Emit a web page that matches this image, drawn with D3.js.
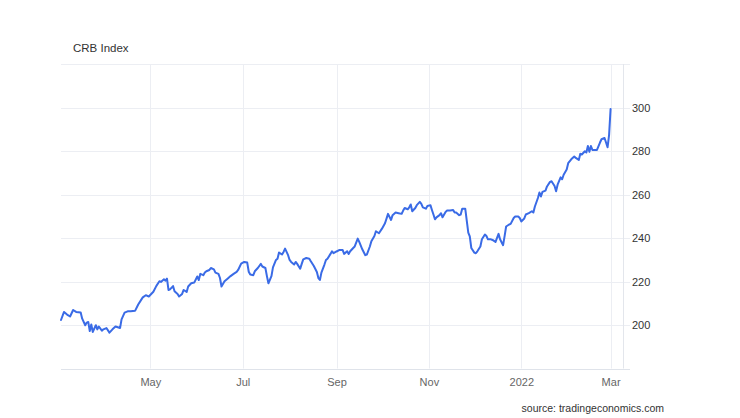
<!DOCTYPE html>
<html>
<head>
<meta charset="utf-8">
<script src="https://cdn.jsdelivr.net/npm/d3@7"></script>
<style>
  html, body { margin: 0; padding: 0; background: #fff; }
  svg { display: block; font-family: "Liberation Sans", Arial, sans-serif; }
</style>
</head>
<body>
<svg id="chart" width="740" height="418"></svg>
<script>
const title = "CRB Index";
const source = "source: tradingeconomics.com";

const dates = [
  "2021-03-03","2021-03-05","2021-03-07","2021-03-09","2021-03-11","2021-03-13","2021-03-16","2021-03-17","2021-03-19","2021-03-20","2021-03-21","2021-03-22","2021-03-23","2021-03-24","2021-03-26","2021-03-27","2021-03-28","2021-03-30","2021-03-31",
  "2021-04-02","2021-04-04","2021-04-06","2021-04-08","2021-04-11","2021-04-12","2021-04-14","2021-04-16","2021-04-18","2021-04-21","2021-04-23","2021-04-26","2021-04-28","2021-04-30",
  "2021-05-03","2021-05-05","2021-05-07","2021-05-08","2021-05-10","2021-05-11","2021-05-12","2021-05-13","2021-05-14","2021-05-16","2021-05-17","2021-05-19","2021-05-20","2021-05-22","2021-05-23","2021-05-25","2021-05-26","2021-05-28","2021-05-30",
  "2021-06-01","2021-06-02","2021-06-03","2021-06-05","2021-06-06","2021-06-07","2021-06-09","2021-06-10","2021-06-12","2021-06-13","2021-06-15","2021-06-16","2021-06-17","2021-06-19","2021-06-21","2021-06-23","2021-06-25","2021-06-27","2021-06-28","2021-06-30",
  "2021-07-02","2021-07-04","2021-07-05","2021-07-06","2021-07-08","2021-07-09","2021-07-11","2021-07-13","2021-07-14","2021-07-16","2021-07-17","2021-07-18","2021-07-20","2021-07-21","2021-07-23","2021-07-24","2021-07-25","2021-07-27","2021-07-28","2021-07-29","2021-07-31",
  "2021-08-01","2021-08-02","2021-08-04","2021-08-05","2021-08-06","2021-08-08","2021-08-09","2021-08-10","2021-08-12","2021-08-14","2021-08-15","2021-08-17","2021-08-19","2021-08-20","2021-08-21","2021-08-22","2021-08-24","2021-08-25","2021-08-26","2021-08-28","2021-08-29","2021-08-30",
  "2021-09-01","2021-09-03","2021-09-05","2021-09-06","2021-09-08","2021-09-09","2021-09-10","2021-09-12","2021-09-13","2021-09-15","2021-09-16","2021-09-18","2021-09-20","2021-09-21","2021-09-23","2021-09-24","2021-09-26","2021-09-27","2021-09-29",
  "2021-10-01","2021-10-03","2021-10-04","2021-10-05","2021-10-07","2021-10-08","2021-10-10","2021-10-12","2021-10-14","2021-10-15","2021-10-16","2021-10-18","2021-10-19","2021-10-20","2021-10-21","2021-10-23","2021-10-24","2021-10-26","2021-10-27","2021-10-28","2021-10-30","2021-10-31",
  "2021-11-02","2021-11-03","2021-11-04","2021-11-05","2021-11-06","2021-11-08","2021-11-09","2021-11-10","2021-11-12","2021-11-13","2021-11-15","2021-11-17","2021-11-18","2021-11-19","2021-11-21","2021-11-22","2021-11-23","2021-11-25","2021-11-27","2021-11-28","2021-11-29",
  "2021-12-01","2021-12-02","2021-12-03","2021-12-05","2021-12-06","2021-12-08","2021-12-09","2021-12-10","2021-12-12","2021-12-13","2021-12-15","2021-12-17","2021-12-18","2021-12-20","2021-12-21","2021-12-22","2021-12-24","2021-12-25","2021-12-27","2021-12-28","2021-12-30","2021-12-31",
  "2022-01-01","2022-01-03","2022-01-04","2022-01-06","2022-01-08","2022-01-09","2022-01-10","2022-01-12","2022-01-13","2022-01-14","2022-01-15","2022-01-17","2022-01-18","2022-01-20","2022-01-21","2022-01-23","2022-01-24","2022-01-25","2022-01-27","2022-01-28","2022-01-29","2022-01-31",
  "2022-02-01","2022-02-03","2022-02-05","2022-02-06","2022-02-08","2022-02-09","2022-02-10","2022-02-12","2022-02-13","2022-02-14","2022-02-15","2022-02-16","2022-02-17","2022-02-19","2022-02-20","2022-02-22","2022-02-23","2022-02-25","2022-02-26","2022-02-27","2022-02-28",
  "2022-03-01"
];

const values = [
  202.3,206.0,204.8,203.9,206.9,206.0,205.7,202.9,199.9,201.1,201.4,197.2,200.2,196.8,199.9,198.0,199.3,197.4,198.0,
  198.6,196.5,198.0,199.3,198.6,202.6,205.7,206.3,206.3,206.6,209.4,212.7,213.7,213.1,
  215.3,218.0,220.1,219.8,221.0,220.4,221.3,216.1,216.4,217.9,215.5,214.3,213.1,214.3,216.1,215.2,217.7,219.2,219.5,
  222.3,220.7,223.5,222.9,224.1,224.7,225.3,226.2,225.6,224.1,223.5,221.6,217.7,220.1,221.3,222.5,223.5,224.4,225.3,228.2,
  229.0,228.7,224.5,223.2,222.9,224.7,226.2,228.1,226.9,226.2,222.5,219.2,222.5,226.5,229.9,230.5,233.3,232.4,233.6,235.1,232.1,
  229.9,229.0,227.8,229.0,228.1,225.9,228.1,230.2,230.8,230.5,229.3,227.1,224.4,221.6,220.7,224.1,227.8,229.9,230.5,232.7,233.9,233.0,
  233.8,234.5,234.5,232.7,233.9,232.7,233.9,235.4,236.1,239.7,238.2,234.8,232.1,232.4,236.1,238.5,240.9,243.1,242.2,
  244.3,246.8,248.9,251.1,248.3,250.5,251.7,251.4,251.1,252.6,253.8,253.2,254.1,255.4,252.3,253.8,255.1,256.6,255.7,254.1,253.5,254.7,
  255.1,252.9,250.8,248.6,249.5,250.5,251.4,249.5,252.0,252.6,252.6,252.9,251.7,251.7,250.5,250.8,253.5,253.5,242.5,240.7,235.4,
  233.3,233.0,233.9,236.1,239.4,241.6,240.9,239.4,239.4,239.1,238.2,241.9,239.4,236.7,240.9,245.3,246.2,246.5,249.2,249.9,249.9,249.2,
  247.6,249.0,250.8,251.4,252.3,251.7,254.5,258.4,260.9,259.1,261.2,261.8,263.7,265.8,266.1,263.9,261.5,264.5,267.9,267.0,269.1,271.5,
  274.4,276.2,277.5,276.8,275.9,278.7,278.4,279.9,279.3,282.3,279.6,282.3,280.5,280.5,280.5,283.9,285.4,286.0,283.9,281.7,287.3,
  299.3
];

const xDomain = ["2021-03-03", "2022-03-09"];
const xTickDates = ["2021-05-01", "2021-07-01", "2021-09-01", "2021-11-01", "2022-01-01", "2022-03-01"];
const xTickLabels = ["May", "Jul", "Sep", "Nov", "2022", "Mar"];
const yDomain = [180, 320];
const yGridValues = [180, 200, 220, 240, 260, 280, 300, 320];
const yTickLabels = [200, 220, 240, 260, 280, 300];

const parse = d3.utcParse("%Y-%m-%d");
const data = dates.map((d, i) => ({ date: parse(d), value: values[i] }));

const svg = d3.select("#chart");
const plotLeft = 61, plotRight = 622.7, plotTop = 64, plotBottom = 368.5;

const x = d3.scaleUtc().domain(xDomain.map(parse)).range([plotLeft, plotRight]);
const y = d3.scaleLinear().domain(yDomain).range([plotBottom, plotTop]);

const grid = svg.append("g");
grid.selectAll("line.h").data(yGridValues).join("line")
  .attr("class", "h")
  .attr("x1", plotLeft).attr("x2", 630)
  .attr("y1", d => Math.round(y(d)) + 0.5).attr("y2", d => Math.round(y(d)) + 0.5)
  .attr("stroke", d => d === yDomain[0] ? "#dfe3ea" : "#eceef3")
  .attr("stroke-width", 1);
grid.selectAll("line.v").data(xTickDates.map(parse)).join("line")
  .attr("class", "v")
  .attr("x1", d => Math.round(x(d)) + 0.5).attr("x2", d => Math.round(x(d)) + 0.5)
  .attr("y1", plotTop).attr("y2", plotBottom)
  .attr("stroke", "#eceef3").attr("stroke-width", 1);
grid.append("line")
  .attr("x1", Math.round(plotRight) + 0.5).attr("x2", Math.round(plotRight) + 0.5)
  .attr("y1", plotTop).attr("y2", plotBottom)
  .attr("stroke", "#e3e6ec").attr("stroke-width", 1);

const xAxis = d3.axisBottom(x)
  .tickValues(xTickDates.map(parse))
  .tickFormat((d, i) => xTickLabels[i])
  .tickSize(0).tickPadding(0);
const gx = svg.append("g").attr("transform", `translate(0,${plotBottom})`).call(xAxis);
gx.select(".domain").remove();
gx.selectAll("text")
  .attr("dy", 0).attr("y", 17)
  .attr("fill", "#666").attr("font-size", 11)
  .attr("font-family", "'Liberation Sans', Arial, sans-serif");

const yAxis = d3.axisRight(y)
  .tickValues(yTickLabels)
  .tickFormat(d3.format("d"))
  .tickSize(0).tickPadding(0);
const gy = svg.append("g").attr("transform", `translate(632,0)`).call(yAxis);
gy.select(".domain").remove();
gy.selectAll("text")
  .attr("x", 0).attr("dy", "0.35em")
  .attr("fill", "#333").attr("font-size", 11)
  .attr("font-family", "'Liberation Sans', Arial, sans-serif");

const line = d3.line().x(d => x(d.date)).y(d => y(d.value)).curve(d3.curveLinear);
svg.append("path").datum(data)
  .attr("d", line)
  .attr("fill", "none")
  .attr("stroke", "#3a6be6")
  .attr("stroke-width", 2)
  .attr("stroke-linejoin", "round")
  .attr("stroke-linecap", "round");

svg.append("text").attr("x", 73).attr("y", 52)
  .attr("fill", "#333").attr("font-size", 11.5)
  .text(title);

svg.append("text").attr("x", 664).attr("y", 412)
  .attr("text-anchor", "end")
  .attr("fill", "#333").attr("font-size", 10.5)
  .text(source);
</script>
</body>
</html>
